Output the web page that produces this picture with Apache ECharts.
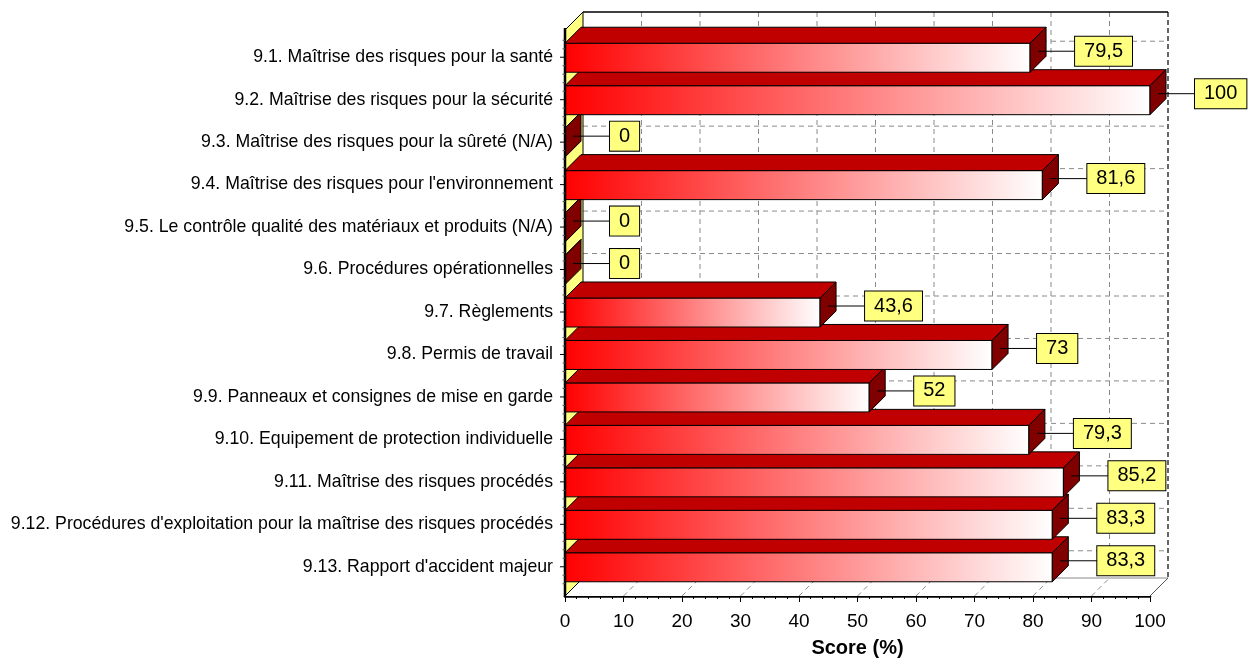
<!DOCTYPE html>
<html>
<head>
<meta charset="utf-8">
<script src="https://cdn.jsdelivr.net/npm/echarts@6/dist/echarts.min.js"></script>
<style>
  html, body { margin: 0; padding: 0; background: #ffffff; }
  #chart { width: 1255px; height: 658px; }
</style>
</head>
<body>
<div id="chart"></div>
<script>
// Scores per audit section (%)
const categories = [
  '9.1. Maîtrise des risques pour la santé',
  '9.2. Maîtrise des risques pour la sécurité',
  '9.3. Maîtrise des risques pour la sûreté (N/A)',
  '9.4. Maîtrise des risques pour l\'environnement',
  '9.5. Le contrôle qualité des matériaux et produits (N/A)',
  '9.6. Procédures opérationnelles',
  '9.7. Règlements',
  '9.8. Permis de travail',
  '9.9. Panneaux et consignes de mise en garde',
  '9.10. Equipement de protection individuelle',
  '9.11. Maîtrise des risques procédés',
  '9.12. Procédures d\'exploitation pour la maîtrise des risques procédés',
  '9.13. Rapport d\'accident majeur'
];
const scores = [79.5, 100, 0, 81.6, 0, 0, 43.6, 73, 52, 79.3, 85.2, 83.3, 83.3];
const xTicks = [0, 10, 20, 30, 40, 50, 60, 70, 80, 90, 100];
const axisTitle = 'Score (%)';

const FONT = "'Liberation Sans', Arial, Helvetica, sans-serif";
const WALL_DEPTH = 18;     // depth of the 3D box (px, drawn up-right)
const BAR_DEPTH = 16;      // depth of each bar
const TOP_EXTRA = 6;       // box edge above the first band
const BOTTOM_EXTRA = 8;    // box edge below the last band
const N = categories.length;

function boxExtent(api) {
  const band = api.size([0, 1])[1];
  const x0 = api.coord([0, 0])[0];
  const x1 = api.coord([100, 0])[0];
  const yTop = api.coord([0, 0])[1] - band / 2 - TOP_EXTRA;
  const yBot = api.coord([0, N - 1])[1] + band / 2 + BOTTOM_EXTRA;
  return { band, x0, x1, yTop, yBot };
}

// Back wall, floor, left wall and the dashed grid
function renderFrame(params, api) {
  const { band, x0, x1, yTop, yBot } = boxExtent(api);
  const D = WALL_DEPTH;
  const kids = [];
  const grid = { stroke: '#8a8a8a', lineWidth: 1, lineDash: [5, 4] };
  kids.push({ type: 'rect', shape: { x: x0 + D, y: yTop - D, width: x1 - x0, height: yBot - yTop }, style: { fill: '#ffffff' } });
  xTicks.forEach(t => {
    const x = api.coord([t, 0])[0];
    if (t > 0 && t < 100) {
      kids.push({ type: 'line', shape: { x1: x + D, y1: yTop - D, x2: x + D, y2: yBot - D }, style: grid });
    }
  });
  for (let i = 0; i < N; i++) {
    const y = api.coord([0, i])[1] - 16;
    kids.push({ type: 'line', shape: { x1: x0 + D, y1: y, x2: x1 + D, y2: y }, style: grid });
  }
  // floor
  kids.push({ type: 'polygon', shape: { points: [[x0, yBot], [x1, yBot], [x1 + D, yBot - D], [x0 + D, yBot - D]] }, style: { fill: '#ffffff' } });
  xTicks.forEach(t => {
    const x = api.coord([t, 0])[0];
    if (t > 0 && t < 100) {
      kids.push({ type: 'line', shape: { x1: x, y1: yBot, x2: x + D, y2: yBot - D }, style: grid });
    }
  });
  kids.push({ type: 'line', shape: { x1: x0 + D, y1: yBot - D, x2: x1 + D, y2: yBot - D }, style: { stroke: '#8a8a8a', lineWidth: 1 } });
  kids.push({ type: 'line', shape: { x1: x1, y1: yBot, x2: x1 + D, y2: yBot - D }, style: { stroke: '#555555', lineWidth: 1 } });
  // wall outlines
  kids.push({ type: 'line', shape: { x1: x1 + D, y1: yTop - D, x2: x1 + D, y2: yBot - D }, style: { stroke: '#333333', lineWidth: 1.5, lineDash: [5, 3] } });
  kids.push({ type: 'line', shape: { x1: x0 + D, y1: yTop - D, x2: x1 + D, y2: yTop - D }, style: { stroke: '#000000', lineWidth: 1.5 } });
  // left wall
  kids.push({ type: 'polygon', shape: { points: [[x0, yBot], [x0, yTop], [x0 + D, yTop - D], [x0 + D, yBot - D]] }, style: { fill: '#ffff80', stroke: '#000000', lineWidth: 1 } });
  return { type: 'group', children: kids };
}

// One 3D bar: gradient front, dark top and side faces
function renderBar(params, api) {
  const idx = params.dataIndex;
  const v = api.value(0);
  const end = api.coord([v, idx]);
  const xs = api.coord([0, idx])[0];
  const xe = end[0];
  const yc = end[1];
  const yt = yc - 14;
  const yb = yc + 15;
  const d = BAR_DEPTH;
  const base = (N - idx) * 4;
  const kids = [];
  if (xe - xs > 0.5) {
    kids.push({
      type: 'rect', z2: base,
      shape: { x: xs, y: yt, width: xe - xs, height: yb - yt },
      style: {
        fill: { type: 'linear', x: 0, y: 0, x2: 1, y2: 0, global: false,
          colorStops: [{ offset: 0, color: '#ff0000' }, { offset: 1, color: '#ffffff' }] },
        stroke: '#000000', lineWidth: 1
      }
    });
  }
  kids.push({
    type: 'polygon', z2: base + 1,
    shape: { points: [[xs, yt], [xe, yt], [xe + d, yt - d], [xs + d, yt - d]] },
    style: { fill: '#c00000', stroke: '#000000', lineWidth: 1 }
  });
  kids.push({
    type: 'polygon', z2: base + 2,
    shape: { points: [[xe, yt], [xe + d, yt - d], [xe + d, yb - d], [xe, yb]] },
    style: { fill: '#800000', stroke: '#000000', lineWidth: 1 }
  });
  return { type: 'group', children: kids };
}

// Left axis line with its ticks, drawn over the bars
function renderLeftAxis(params, api) {
  const { band, x0, yTop, yBot } = boxExtent(api);
  const kids = [];
  kids.push({ type: 'line', shape: { x1: x0, y1: yTop - 2, x2: x0, y2: yBot + 1 }, style: { stroke: '#000000', lineWidth: 2.5 } });
  const step = band / 5;
  for (let i = 0; i < N; i++) {
    const yc = api.coord([0, i])[1];
    for (let k = -2; k <= 2; k++) {
      const y = yc + k * step;
      const len = k === 0 ? 5 : 2.5;
      kids.push({ type: 'line', shape: { x1: x0 - len, y1: y, x2: x0, y2: y }, style: { stroke: k === 0 ? '#000000' : '#555555', lineWidth: 1 } });
    }
  }
  return { type: 'group', children: kids };
}

// Value callouts: leader line and yellow box
function renderLabel(params, api) {
  const idx = params.dataIndex;
  const v = api.value(0);
  const end = api.coord([v, idx]);
  const xe = end[0];
  const y = end[1] - 6;
  const boxX = xe + 45;
  return {
    type: 'group',
    children: [
      { type: 'line', shape: { x1: xe + 8, y1: y, x2: boxX, y2: y }, style: { stroke: '#000000', lineWidth: 1 } },
      {
        type: 'text',
        style: {
          x: boxX, y: y,
          text: String(v).replace('.', ','),
          font: '20px ' + FONT,
          fill: '#000000',
          align: 'left', verticalAlign: 'middle',
          backgroundColor: '#ffff80',
          borderColor: '#000000', borderWidth: 1,
          padding: [5, 9, 4, 9]
        }
      }
    ]
  };
}

const chart = echarts.init(document.getElementById('chart'), null, { renderer: 'canvas' });
const points = scores.map((s, i) => [s, i]);

chart.setOption({
  animation: false,
  backgroundColor: '#ffffff',
  grid: { left: 565, right: 105, top: 36, bottom: 70, containLabel: false, outerBoundsMode: 'none' },
  xAxis: {
    type: 'value', min: 0, max: 100, interval: 10, offset: 8,
    axisLine: { show: true, lineStyle: { color: '#000000', width: 2.5 } },
    axisTick: { show: true, length: 6, lineStyle: { color: '#000000', width: 1 } },
    minorTick: { show: true, splitNumber: 5, length: 3, lineStyle: { color: '#000000', width: 1 } },
    axisLabel: { color: '#000000', fontSize: 19, fontFamily: FONT, margin: 16 },
    splitLine: { show: false },
    name: axisTitle, nameLocation: 'middle', nameGap: 42,
    nameTextStyle: { color: '#000000', fontSize: 20, fontWeight: 'bold', fontFamily: FONT }
  },
  yAxis: {
    type: 'category', inverse: true, data: categories,
    axisLine: { show: false },
    axisTick: { show: false },
    axisLabel: { color: '#000000', fontSize: 17.7, fontFamily: FONT, margin: 12 },
    splitLine: { show: false }
  },
  series: [
    { type: 'custom', name: 'frame', coordinateSystem: 'cartesian2d', clip: false, z: 1, silent: true,
      data: [[0, 0]], encode: { x: 0, y: 1 }, renderItem: renderFrame },
    { type: 'custom', name: 'Score', coordinateSystem: 'cartesian2d', clip: false, z: 2,
      data: points, encode: { x: 0, y: 1 }, renderItem: renderBar },
    { type: 'custom', name: 'axis', coordinateSystem: 'cartesian2d', clip: false, z: 3, silent: true,
      data: [[0, 0]], encode: { x: 0, y: 1 }, renderItem: renderLeftAxis },
    { type: 'custom', name: 'labels', coordinateSystem: 'cartesian2d', clip: false, z: 4, silent: true,
      data: points, encode: { x: 0, y: 1 }, renderItem: renderLabel }
  ]
});
</script>
</body>
</html>
